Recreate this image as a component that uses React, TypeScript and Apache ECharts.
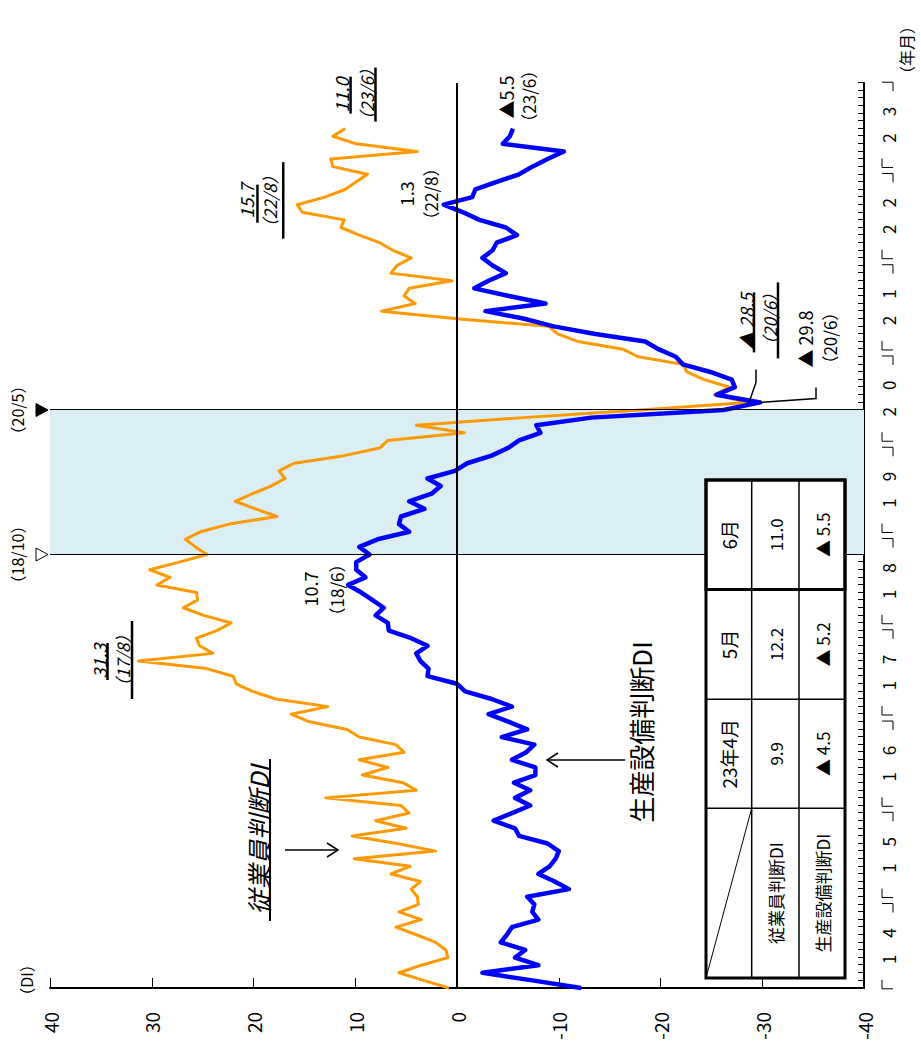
import React, { useEffect, useRef } from "react";
import * as echarts from "echarts";

const FONT = "'Noto Sans CJK JP', 'Noto Sans', sans-serif";
const ORANGE = "#FF9900";
const BLUE = "#0000FF";
const SHADE = "#DAEEF3";

// Month index 0 = 2014/1, last value = 2023/6
const firstYear = 14;
const timeMax = 119; // axis runs to 2023/12

const employmentDI = [
  0.8, 3.3, 5.7, 3.5, 0.9, 1.1, 2.1, 4.0, 6.0, 3.5, 5.7, 3.8,
  3.9, 4.5, 3.6, 6.5, 4.6, 10.1, 2.1, 5.9, 10.3, 5.0, 8.0, 4.7,
  5.5, 12.9, 4.0, 5.3, 9.3, 6.8, 9.6, 5.2, 6.0, 9.6, 10.8, 14.5,
  16.3, 12.7, 17.8, 20.1, 21.7, 22.0, 24.6, 31.3, 24.0, 25.3, 25.6, 23.6,
  22.2, 24.9, 26.9, 25.5, 25.6, 29.5, 28.2, 30.2, 27.3, 24.6, 25.7, 26.7,
  25.2, 22.4, 17.7, 19.8, 21.8, 20.1, 18.3, 16.9, 17.5, 16.0, 11.1, 7.6,
  6.8, -0.7, 4.0, -6.5, -18.0, -28.5, -25.3, -26.8, -24.3, -22.6, -22.2, -17.8,
  -16.3, -11.9, -9.9, -9.0, 0.0, 7.4, 4.1, 5.2, 4.7, 0.5, 6.5, 5.9,
  4.5, 6.3, 7.6, 9.6, 11.4, 11.1, 15.2, 15.7, 13.0, 11.0, 9.9, 8.8,
  12.2, 12.4, 3.9, 9.9, 12.2, 11.0,
];

const equipmentDI = [
  -12.2, -7.4, -2.5, -8.0, -5.7, -6.7, -4.3, -4.9, -5.4, -8.0, -7.4, -7.6,
  -6.9, -11.0, -9.6, -8.0, -9.1, -9.7, -10.0, -8.9, -6.1, -5.7, -3.6, -5.4,
  -7.2, -5.7, -7.2, -5.6, -7.7, -7.7, -5.4, -6.8, -7.6, -4.4, -6.9, -5.1,
  -3.1, -5.4, -3.4, -0.8, 0.0, 2.9, 2.8, 3.6, 4.0, 2.9, 4.5, 6.7,
  6.8, 8.0, 7.2, 8.3, 9.4, 10.7, 9.0, 9.9, 9.9, 8.6, 9.6, 7.8,
  4.7, 5.7, 5.5, 3.2, 4.7, 2.5, 1.6, 2.9, 0.2, -1.0, -3.4, -5.0,
  -6.1, -8.2, -7.8, -13.2, -26.2, -29.8, -25.5, -27.3, -27.0, -24.9, -22.2, -21.5,
  -19.8, -18.5, -13.6, -9.5, -6.6, -2.8, -8.7, -5.1, -1.7, -3.1, -4.8, -3.5,
  -2.5, -3.5, -3.9, -5.9, -4.8, -2.2, -0.6, 1.3, -1.5, -1.8, -3.9, -6.1,
  -7.4, -8.9, -10.5, -4.5, -5.2, -5.5,
];

const yearLabels = ["1　4", "1　5", "1　6", "1　7", "1　8", "1　9", "2　0", "2　1", "2　2", "2　3"];

const recessionStart = 57; // 18/10
const recessionEnd = 76; // 20/5

const tableMonthIdx = [111, 112, 113];
const tableMonthLabels = ["23年4月", "5月", "6月"];
const rowNames = ["従業員判断DI", "生産設備判断DI"];

const ymText = (i: number) => `（${firstYear + Math.floor(i / 12)}/${(i % 12) + 1}）`;
const fmt = (v: number, gap = true) =>
  v < 0 ? `▲${gap ? " " : ""}${Math.abs(v).toFixed(1)}` : v.toFixed(1);

function buildOption(): any {
  return {
    animation: false,
    textStyle: { fontFamily: FONT },
    grid: { left: 55, right: 83, top: 50, bottom: 57 },
    xAxis: {
      type: "value",
      min: 0,
      max: timeMax,
      interval: 1,
      axisLine: { onZero: false, lineStyle: { color: "#000", width: 2 } },
      axisTick: { show: true, inside: true, length: 6, lineStyle: { color: "#000", width: 1 } },
      axisLabel: { show: false },
      splitLine: { show: false },
    },
    yAxis: {
      type: "value",
      min: -40,
      max: 40,
      interval: 10,
      axisLine: { show: true, onZero: false, lineStyle: { color: "#000", width: 2 } },
      axisTick: { show: true, inside: true, length: 10, lineStyle: { color: "#000", width: 1 } },
      axisLabel: { color: "#000", fontSize: 19, margin: 24, fontFamily: FONT },
      splitLine: { show: false },
    },
    series: [
      {
        type: "line",
        data: [],
        z: 1,
        silent: true,
        markArea: {
          silent: true,
          itemStyle: { color: SHADE },
          data: [[{ xAxis: recessionStart }, { xAxis: recessionEnd }]],
        },
        markLine: {
          silent: true,
          symbol: ["none", "none"],
          label: { show: false },
          lineStyle: { color: "#000", width: 1, type: "solid" },
          data: [{ xAxis: recessionStart }, { xAxis: recessionEnd }],
        },
      },
      {
        name: "従業員判断DI",
        type: "line",
        z: 2,
        symbol: "none",
        silent: true,
        data: employmentDI.map((v, i) => [i, v]),
        lineStyle: { color: ORANGE, width: 3, join: "round" },
      },
      {
        name: "生産設備判断DI",
        type: "line",
        z: 3,
        symbol: "none",
        silent: true,
        data: equipmentDI.map((v, i) => [i, v]),
        lineStyle: { color: BLUE, width: 4.5, join: "round" },
      },
      {
        type: "line",
        data: [],
        z: 4,
        silent: true,
        markLine: {
          silent: true,
          symbol: ["none", "none"],
          label: { show: false },
          lineStyle: { color: "#000", width: 2, type: "solid" },
          data: [{ yAxis: 0 }],
        },
      },
    ],
  };
}

function txt(x: number, y: number, text: string, size: number, extra: any = {}) {
  return {
    type: "text",
    x,
    y,
    z: 50,
    silent: true,
    style: {
      text,
      fontSize: size,
      fontFamily: FONT,
      fill: "#000",
      align: "center",
      verticalAlign: "middle",
      ...extra,
    },
  };
}

function seg(x1: number, y1: number, x2: number, y2: number, w = 1) {
  return { type: "line", z: 50, silent: true, shape: { x1, y1, x2, y2 }, style: { stroke: "#000", lineWidth: w } };
}

function poly(points: number[][], w = 1) {
  return { type: "polyline", z: 50, silent: true, shape: { points }, style: { stroke: "#000", lineWidth: w, fill: null } };
}

// annotation offsets relative to the annotated point, in the chart's own frame
const employmentNotes = [
  { i: 43, gap: true, val: [0, -39.5], valLine: [-31, -19, 18], date: [0, -16], dateLine: [-6.5, -38, 40] },
  { i: 103, gap: true, val: [3.7, -51.3], valLine: [-39.8, -18, 20], date: [3, -27.8], dateLine: [-14, -34, 42.5] },
  { i: 113, gap: true, val: [33.7, -3.6], valLine: [5.5, 15, 52], date: [34, 21], dateLine: [30.4, 7, 61] },
  {
    i: 77, gap: true, val: [81, -0.5], valLine: [7, 50, 110], date: [83, 23], dateLine: [31, 44, 120],
    leader: [[33, 9], [20, 9], [0, 2]],
  },
];

const equipmentNotes = [
  { i: 53, gap: false, val: [-4, -38], date: [-5, -11.4] },
  { i: 103, gap: false, val: [11, -38], date: [10.7, -12.8] },
  { i: 113, gap: false, val: [31.5, -7.3], date: [32.4, 15.4] },
  { i: 77, gap: true, val: [63.3, 44.3], date: [64.3, 69.3], leader: [[0, 0], [3.8, 55.8], [14.8, 55.8]] },
];

function buildGraphic(chart: any) {
  const P = (m: number, v: number) => chart.convertToPixel({ gridIndex: 0 }, [m, v]) as number[];
  const g: any[] = [];
  const [x0, yTop] = P(0, 40);
  const [xEnd, yBot] = P(timeMax, -40);

  // axis captions
  g.push(txt(x0 + 8, yTop - 24, "（DI）", 16));
  g.push(txt(xEnd + 33, yBot + 42, "（年月）", 16));

  // year labels with bracket marks at year boundaries
  yearLabels.forEach((lab, k) => {
    const [x] = P(12 * k + 5.5, -40);
    g.push(txt(x, yBot + 24, lab, 17));
  });
  for (let k = 0; k <= yearLabels.length; k++) {
    const [xb] = P(12 * k - 0.5, -40);
    const top = yBot + 18;
    const bot = yBot + 29;
    if (k > 0) g.push(poly([[xb - 12, bot], [xb - 3, bot], [xb - 3, top]]));
    if (k < yearLabels.length) g.push(poly([[xb + 3, bot], [xb + 3, top], [xb + 12, top]]));
  }

  // recession markers
  [
    [recessionStart, false],
    [recessionEnd, true],
  ].forEach(([m, filled]) => {
    const [x] = P(m as number, 40);
    g.push({
      type: "polygon",
      z: 50,
      silent: true,
      shape: { points: [[x - 6.5, yTop - 14], [x + 6.5, yTop - 14], [x, yTop - 2]] },
      style: { fill: filled ? "#000" : "#fff", stroke: "#000", lineWidth: 1 },
    });
    g.push(txt(x, yTop - 33, ymText(m as number), 16));
  });

  // employment DI notes (italic, underlined)
  employmentNotes.forEach((n) => {
    const v = employmentDI[n.i];
    const [px, py] = P(n.i, v);
    g.push(txt(px + n.val[0], py + n.val[1], fmt(v, n.gap), 18, { fontStyle: "italic" }));
    g.push(seg(px + n.valLine[1], py + n.valLine[0], px + n.valLine[2], py + n.valLine[0], 2.5));
    g.push(txt(px + n.date[0], py + n.date[1], ymText(n.i), 17, { fontStyle: "italic" }));
    g.push(seg(px + n.dateLine[1], py + n.dateLine[0], px + n.dateLine[2], py + n.dateLine[0], 2.5));
    if (n.leader) g.push(poly(n.leader.map(([dx, dy]) => [px + dx, py + dy]), 1.5));
  });

  // equipment DI notes
  equipmentNotes.forEach((n) => {
    const v = equipmentDI[n.i];
    const [px, py] = P(n.i, v);
    g.push(txt(px + n.val[0], py + n.val[1], fmt(v, n.gap), 18));
    g.push(txt(px + n.date[0], py + n.date[1], ymText(n.i), 17));
    if (n.leader) g.push(poly(n.leader.map(([dx, dy]) => [px + dx, py + dy]), 1.5));
  });

  // series captions with arrows
  g.push(txt(203, 258, rowNames[0], 25, { fontStyle: "italic" }));
  g.push(seg(122, 270, 284, 270, 2));
  g.push(seg(193, 285, 193, 338, 1.5));
  g.push(poly([[186, 327], [193, 338], [200, 327]], 1.5));

  g.push(txt(311, 640, rowNames[1], 26));
  g.push(seg(283, 625, 283, 547, 1.5));
  g.push(poly([[276, 558], [283, 547], [290, 558]], 1.5));

  // latest values table
  const tu = [65, 234.7, 343.7, 453.5, 563];
  const tv = [706, 751.7, 799, 845];
  g.push({
    type: "rect",
    z: 48,
    silent: true,
    shape: { x: tu[0], y: tv[0], width: tu[4] - tu[0], height: tv[3] - tv[0] },
    style: { fill: "#fff", stroke: "#000", lineWidth: 3 },
  });
  g.push(seg(tu[1], tv[0], tu[1], tv[3], 1.5));
  g.push(seg(tu[2], tv[0], tu[2], tv[3], 1.5));
  g.push(seg(tu[0], tv[1], tu[4], tv[1], 1.5));
  g.push(seg(tu[0], tv[2], tu[4], tv[2], 1.5));
  g.push(seg(tu[0], tv[0], tu[1], tv[1], 1));
  g.push({
    type: "rect",
    z: 51,
    silent: true,
    shape: { x: tu[3], y: tv[0], width: tu[4] - tu[3], height: tv[3] - tv[0] },
    style: { fill: null, stroke: "#000", lineWidth: 3 },
  });
  const rowMid = [(tv[0] + tv[1]) / 2, (tv[1] + tv[2]) / 2, (tv[2] + tv[3]) / 2];
  const colMid = [(tu[0] + tu[1]) / 2, (tu[1] + tu[2]) / 2, (tu[2] + tu[3]) / 2, (tu[3] + tu[4]) / 2];
  tableMonthLabels.forEach((lab, c) => g.push(txt(colMid[c + 1], rowMid[0], lab, 19)));
  g.push(txt(colMid[0], rowMid[1], rowNames[0], 17));
  g.push(txt(colMid[0], rowMid[2], rowNames[1], 17));
  tableMonthIdx.forEach((idx, c) => {
    g.push(txt(colMid[c + 1], rowMid[1], fmt(employmentDI[idx]), 17));
    g.push(txt(colMid[c + 1], rowMid[2], fmt(equipmentDI[idx]), 17));
  });

  return g;
}

export default function App() {
  const ref = useRef<HTMLDivElement>(null);
  useEffect(() => {
    const el = ref.current;
    if (!el) return;
    const chart = echarts.init(el, null, { renderer: "svg" });
    chart.setOption(buildOption());
    chart.setOption({ graphic: buildGraphic(chart) });
    return () => chart.dispose();
  }, []);
  return (
    <div
      style={{
        position: "fixed",
        left: 0,
        top: 0,
        width: 921,
        height: 1043,
        overflow: "hidden",
        background: "#fff",
      }}
    >
      <div
        ref={ref}
        style={{
          position: "absolute",
          left: (921 - 1043) / 2,
          top: (1043 - 921) / 2,
          width: 1043,
          height: 921,
          transform: "rotate(-90deg)",
          transformOrigin: "50% 50%",
        }}
      />
    </div>
  );
}
